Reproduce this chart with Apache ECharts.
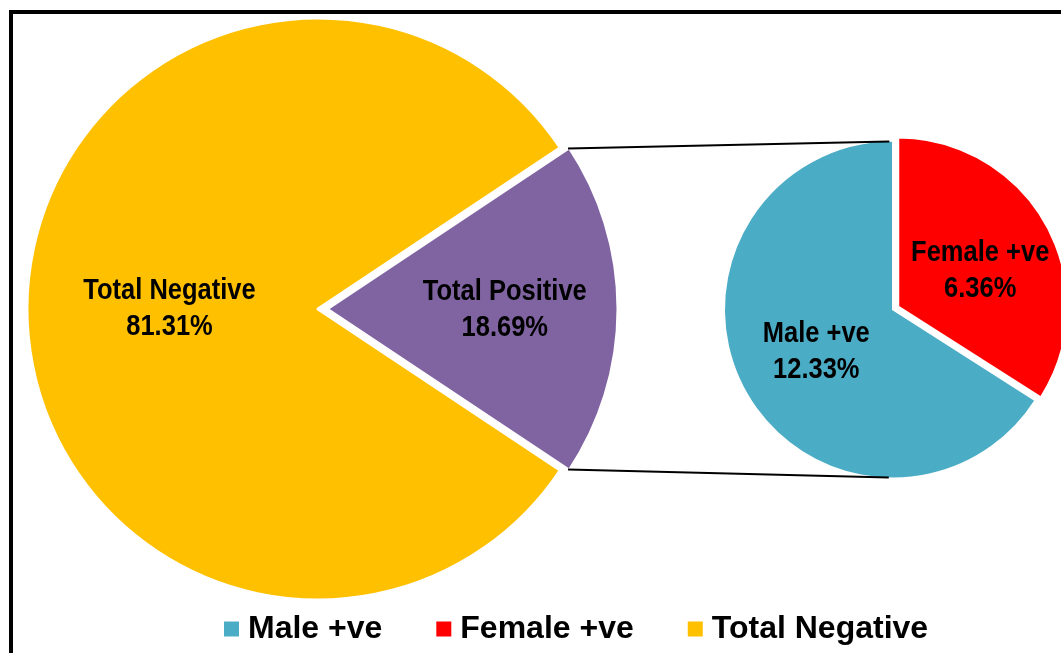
<!DOCTYPE html>
<html><head><meta charset="utf-8">
<script src="https://cdn.jsdelivr.net/npm/echarts@6/dist/echarts.min.js"></script>
<style>html,body{margin:0;padding:0;background:#fff;overflow:hidden}#c{width:1061px;height:653px}</style>
</head><body><div id="c"></div>
<script>
// ---- data ----
const mainNames = ['Total Positive', 'Total Negative'];
const mainValues = [18.69, 81.31];
const subNames = ['Female +ve', 'Male +ve'];
const subValues = [6.36, 12.33];
const legendNames = ['Male +ve', 'Female +ve', 'Total Negative'];

// ---- styles ----
const colorMap = {
  'Total Positive': '#8064A2',
  'Total Negative': '#FFC000',
  'Male +ve': '#4BACC6',
  'Female +ve': '#FF0000'
};
const labelShift = {
  'Total Positive': [38, 1],
  'Total Negative': [0, 0],
  'Female +ve': [-3, 3],
  'Male +ve': [0, 0]
};
const labelCondense = 0.85;
const mainOffset = 9;
const subOffset = 6;
const labelFont = "'Liberation Sans',Arial,sans-serif";

const mainSum = mainValues.reduce((a, b) => a + b, 0);
const mainStart = mainValues[0] / mainSum * 360 / 2;

function items(names, values) {
  return names.map((n, i) => ({
    name: n, value: values[i], selected: i === 0,
    itemStyle: { color: colorMap[n] }
  }));
}

const labelOpt = {
  show: true, position: 'inside',
  formatter: '{b}\n{c}%',
  color: '#000', fontSize: 30, fontWeight: 'bold',
  fontFamily: labelFont, lineHeight: 36
};

function shiftLayout(names) {
  return function (p) {
    const s = labelShift[names[p.dataIndex]] || [0, 0];
    return { dx: s[0], dy: s[1] };
  };
}

const chart = echarts.init(document.getElementById('c'), null, { renderer: 'canvas' });
const option = {
  animation: false,
  backgroundColor: '#fff',
  legend: {
    data: legendNames,
    left: 222, top: 611, padding: 0,
    icon: 'rect', itemWidth: 17, itemHeight: 17, itemGap: 52,
    selectedMode: false,
    textStyle: { fontSize: 32, fontWeight: 'bold', color: '#000',
      fontFamily: "'Liberation Sans',Arial,sans-serif", lineHeight: 36, padding: [0, 0, 0, 3] }
  },
  series: [
    {
      type: 'pie', center: [318, 309], radius: 291,
      startAngle: mainStart, clockwise: true,
      selectedMode: 'single', selectedOffset: mainOffset,
      avoidLabelOverlap: false,
      itemStyle: { borderColor: '#fff', borderWidth: 3 },
      select: { itemStyle: { borderColor: '#fff', borderWidth: 3 }, label: labelOpt },
      emphasis: { disabled: true },
      label: labelOpt, labelLine: { show: false },
      labelLayout: shiftLayout(mainNames),
      data: items(mainNames, mainValues)
    },
    {
      type: 'pie', center: [893, 309.5], radius: 169,
      startAngle: 90, clockwise: true,
      selectedMode: 'single', selectedOffset: subOffset,
      avoidLabelOverlap: false,
      itemStyle: { borderColor: '#fff', borderWidth: 2 },
      select: { itemStyle: { borderColor: '#fff', borderWidth: 2 }, label: labelOpt },
      emphasis: { disabled: true },
      label: labelOpt, labelLine: { show: false },
      labelLayout: shiftLayout(subNames),
      data: items(subNames, subValues)
    }
  ]
};
chart.setOption(option);

// connector lines from exploded slice corners to tangent points of the second pie
const model = chart.getModel();
const L = model.getSeriesByIndex(0).getData().getItemLayout(0);
const L2 = model.getSeriesByIndex(1).getData().getItemLayout(0);
const mid = (L.startAngle + L.endAngle) / 2;
const ox = L.cx + Math.cos(mid) * mainOffset, oy = L.cy + Math.sin(mid) * mainOffset;
const rr = L.r - 1.5;
const cA = [ox + rr * Math.cos(L.startAngle), oy + rr * Math.sin(L.startAngle)];
const cB = [ox + rr * Math.cos(L.endAngle), oy + rr * Math.sin(L.endAngle)];
function tangent(P, top) {
  const dx = P[0] - L2.cx, dy = P[1] - L2.cy;
  const d = Math.hypot(dx, dy);
  const th = Math.atan2(dy, dx);
  const r2 = L2.r - 1;
  const a = Math.acos(r2 / d);
  const t1 = [L2.cx + r2 * Math.cos(th + a), L2.cy + r2 * Math.sin(th + a)];
  const t2 = [L2.cx + r2 * Math.cos(th - a), L2.cy + r2 * Math.sin(th - a)];
  return top ? (t1[1] < t2[1] ? t1 : t2) : (t1[1] > t2[1] ? t1 : t2);
}
const pTop = cA[1] < cB[1] ? cA : cB;
const pBot = cA[1] < cB[1] ? cB : cA;
const tTop = tangent(pTop, true), tBot = tangent(pBot, false);

chart.setOption({
  graphic: [
    { type: 'line', z: 10, shape: { x1: pTop[0], y1: pTop[1], x2: tTop[0], y2: tTop[1] }, style: { stroke: '#000', lineWidth: 2 } },
    { type: 'line', z: 10, shape: { x1: pBot[0], y1: pBot[1], x2: tBot[0], y2: tBot[1] }, style: { stroke: '#000', lineWidth: 2 } },
    { type: 'rect', z: 20, shape: { x: 11, y: 12, width: 1100, height: 700 }, style: { fill: 'none', stroke: '#000', lineWidth: 4 } }
  ]
});

// condense the slice label text horizontally (the reference uses a narrow face)
function condenseLabels() {
  const m = chart.getModel();
  [0, 1].forEach(function (si) {
    const data = m.getSeriesByIndex(si).getData();
    for (let i = 0; i < data.count(); i++) {
      const sector = data.getItemGraphicEl(i);
      const label = sector && sector.getTextContent && sector.getTextContent();
      if (label && label.scaleX !== labelCondense) {
        label.scaleX = labelCondense;
        label.markRedraw();
        sector.markRedraw();
      }
    }
  });
  chart.getZr().refreshImmediately();
}
condenseLabels();
chart.on('finished', condenseLabels);
</script>
</body></html>
